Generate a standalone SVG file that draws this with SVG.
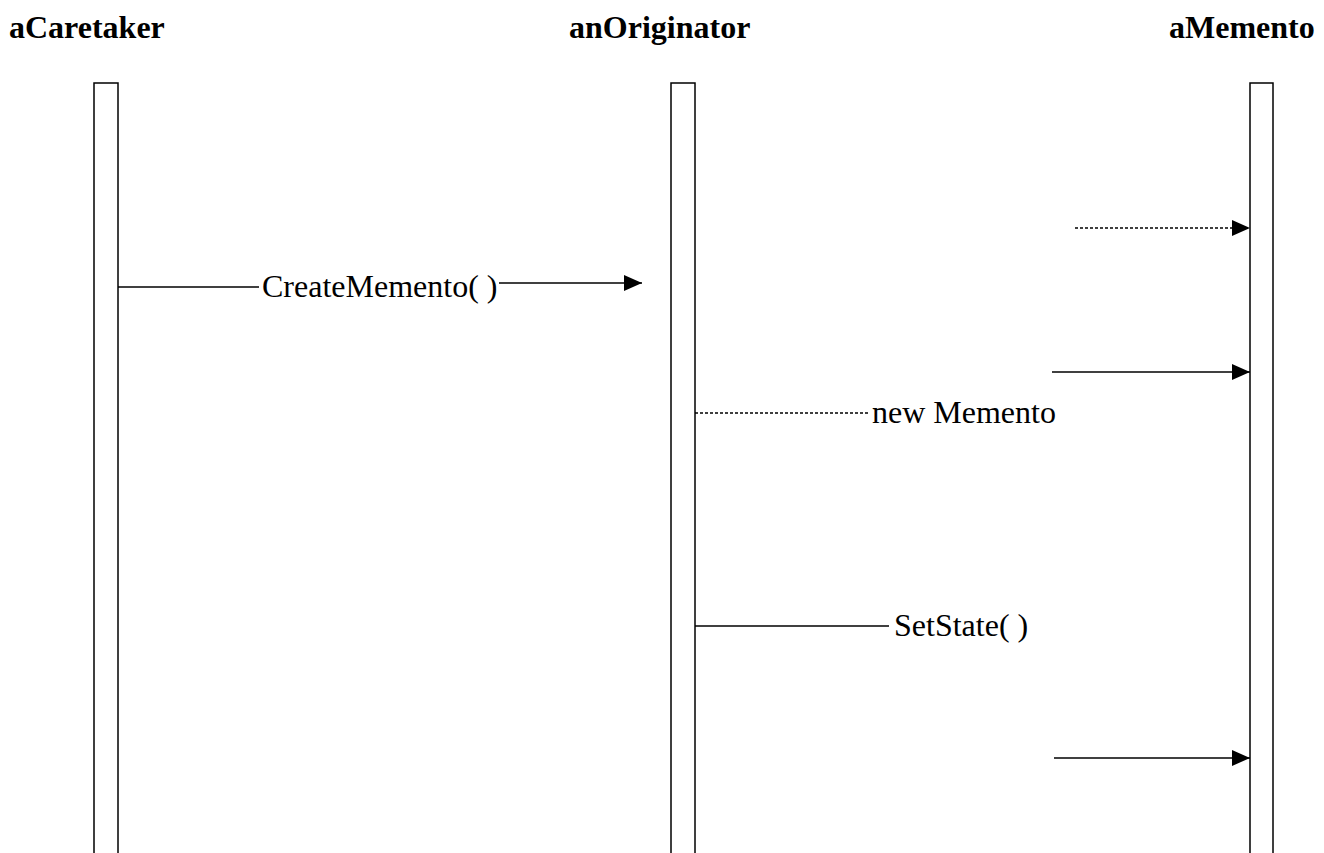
<svg xmlns="http://www.w3.org/2000/svg" width="1324" height="853" viewBox="0 0 1324 853">
  <style>
    .head { font-family: "Liberation Serif", "Times New Roman", serif; font-weight: bold; font-size: 32px; fill: #000; }
    .lbl { font-family: "Liberation Serif", "Times New Roman", serif; font-size: 32px; fill: #000; }
    .life { fill: #fff; stroke: #000; stroke-width: 1.5; }
    .msg { stroke: #000; stroke-width: 1.3; fill: none; }
    .dash { stroke-dasharray: 3 2; }
  </style>
  <defs>
    <marker id="arrow" viewBox="0 0 18 16" refX="18" refY="8" markerWidth="18" markerHeight="16" markerUnits="userSpaceOnUse" orient="auto">
      <path d="M0,0 L18,8 L0,16 Z" fill="#000"/>
    </marker>
  </defs>
  <rect width="1324" height="853" fill="#fff"/>

  <g id="caretaker">
    <text class="head" x="9" y="38">aCaretaker</text>
    <rect class="life" x="94" y="83" width="24" height="780"/>
  </g>
  <g id="originator">
    <text class="head" x="569" y="38">anOriginator</text>
    <rect class="life" x="671" y="83" width="24" height="780"/>
  </g>
  <g id="memento">
    <text class="head" x="1169" y="38">aMemento</text>
    <rect class="life" x="1250" y="83" width="23" height="780"/>
  </g>

  <g id="connectors">
    <line class="msg dash" x1="1075" y1="228" x2="1250" y2="228" marker-end="url(#arrow)"/>

    <line class="msg" x1="118" y1="287" x2="259" y2="287"/>
    <text class="lbl" x="262" y="297">CreateMemento( )</text>
    <line class="msg" x1="499" y1="283" x2="642" y2="283" marker-end="url(#arrow)"/>

    <line class="msg" x1="1052" y1="372" x2="1250" y2="372" marker-end="url(#arrow)"/>

    <line class="msg dash" x1="695" y1="413" x2="870" y2="413"/>
    <text class="lbl" x="872" y="423">new Memento</text>

    <line class="msg" x1="695" y1="626" x2="889" y2="626"/>
    <text class="lbl" x="894" y="636">SetState( )</text>

    <line class="msg" x1="1054" y1="758" x2="1250" y2="758" marker-end="url(#arrow)"/>
  </g>
</svg>
